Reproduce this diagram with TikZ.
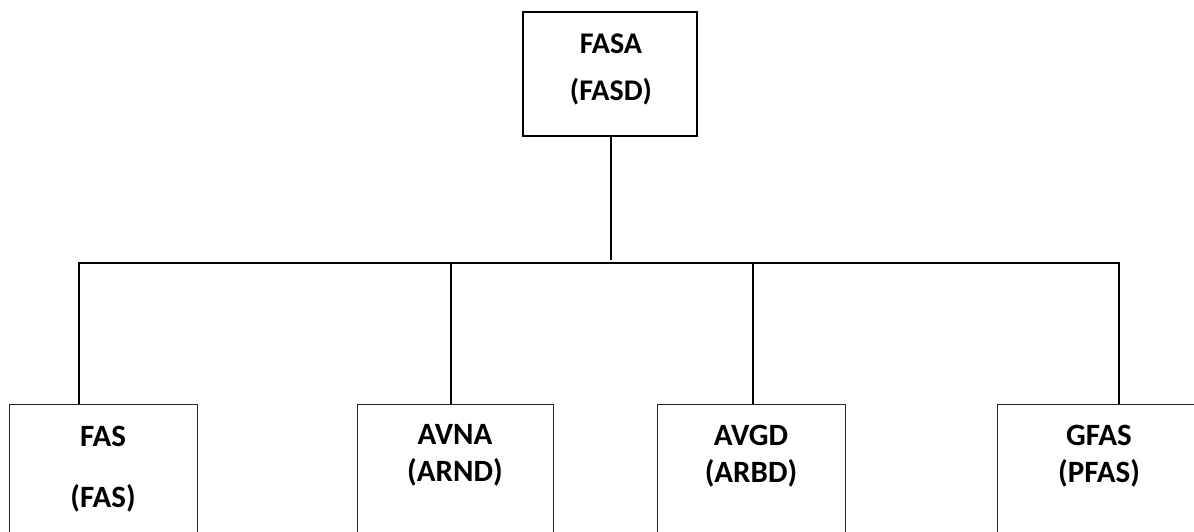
\documentclass[tikz,border=0pt]{standalone}
\usepackage{fontspec}
\setmainfont{Carlito}
\begin{document}
\begin{tikzpicture}[x=1pt,y=-1pt,
  box/.style={draw=black!85,line width=1pt,rectangle,inner sep=0pt,minimum height=170pt},
  topbox/.style={draw=black,line width=1.6pt,rectangle,inner sep=0pt,minimum width=174pt,minimum height=124pt},
  lbl/.style={anchor=base,inner sep=0pt,font=\fontsize{31}{36}\selectfont\bfseries},
  conn/.style={draw=black,line width=2pt}]
\useasboundingbox (0,0) rectangle (1194,531);
\clip (0,0) rectangle (1194,531);
% boxes
\node[topbox] (top) at (610,74) {};
\node[box,minimum width=188pt,anchor=north] (b1) at (103,404) {};
\node[box,minimum width=196pt,anchor=north] (b2) at (455,404) {};
\node[box,minimum width=188pt,anchor=north] (b3) at (751,404) {};
\node[box,minimum width=204pt,anchor=north] (b4) at (1099,404) {};
% texts
\node[lbl,font=\fontsize{30}{36}\selectfont\bfseries] (t0a) at (611,53) {FASA};
\node[lbl,font=\fontsize{30}{36}\selectfont\bfseries] (t0b) at (611,100) {(FASD)};
\node[lbl] (t1a) at (103,446) {FAS};
\node[lbl] (t1b) at (103,507) {(FAS)};
\node[lbl] (t2a) at (455,444) {AVNA};
\node[lbl] (t2b) at (455,481) {(ARND)};
\node[lbl] (t3a) at (751,445) {AVGD};
\node[lbl] (t3b) at (751,482) {(ARBD)};
\node[lbl] (t4a) at (1099,445) {GFAS};
\node[lbl] (t4b) at (1099,482) {(PFAS)};
% connectors
\coordinate (s0) at (611,260);
\coordinate (h1) at (79,263);
\coordinate (h2) at (451,263);
\coordinate (h3) at (753,263);
\coordinate (h4) at (1119,263);
\draw[conn] (top.south -| s0) -- (s0);
\draw[conn] ([xshift=-1pt]h1) -- ([xshift=1pt]h4);
\draw[conn] (h1) -- (h1 |- b1.north);
\draw[conn] (h2) -- (h2 |- b2.north);
\draw[conn] (h3) -- (h3 |- b3.north);
\draw[conn] (h4) -- (h4 |- b4.north);
\end{tikzpicture}
\end{document}
